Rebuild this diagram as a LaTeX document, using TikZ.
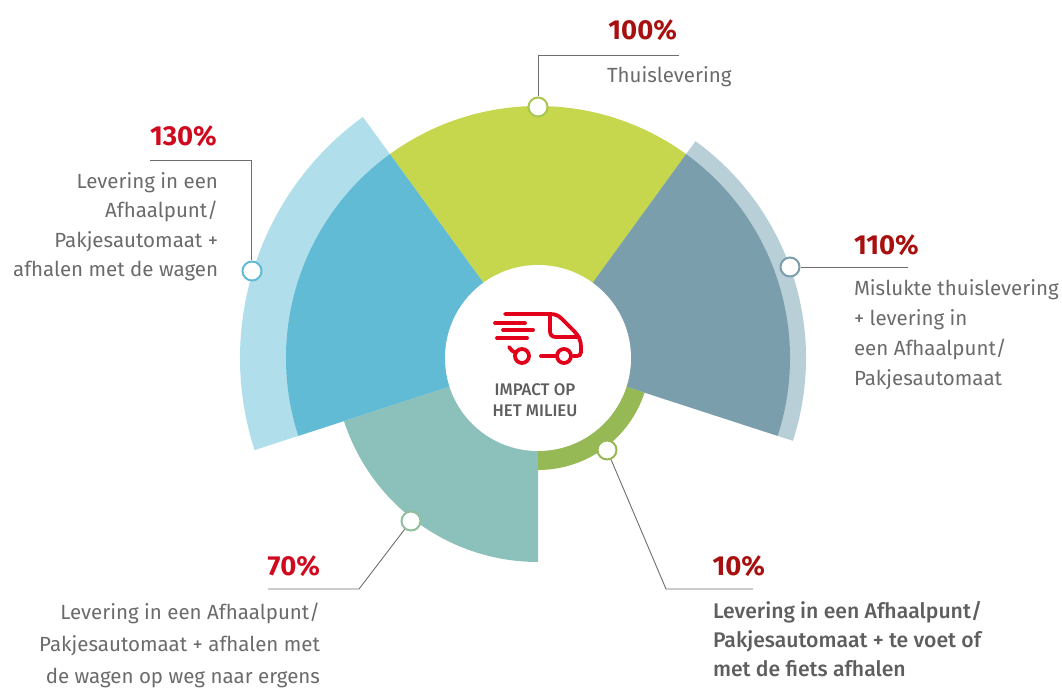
\documentclass[tikz,border=0pt]{standalone}
\usepackage{fontspec}
\setmainfont{Fira Sans}[BoldFont={Fira Sans Medium}]
\newfontfamily\pctfont{Fira Sans}[BoldFont={Fira Sans Bold}]
\definecolor{pctdark}{HTML}{A8100F}
\definecolor{pctred}{HTML}{D0091F}
\definecolor{txtgrey}{HTML}{6B6B6B}
\definecolor{boldgrey}{HTML}{5E5E5E}
\definecolor{leader}{HTML}{6E6E6E}
\definecolor{vanred}{HTML}{E2001A}
\definecolor{slime}{HTML}{C6D74E}
\definecolor{slate}{HTML}{7A9EAB}
\definecolor{slatelt}{HTML}{B9CFD7}
\definecolor{sky}{HTML}{62BBD5}
\definecolor{skylt}{HTML}{B0DEEB}
\definecolor{teal}{HTML}{8CC1BB}
\definecolor{moss}{HTML}{96B956}
\tikzset{
  pct/.style={font=\pctfont\fontsize{27.5}{30}\selectfont\bfseries,inner sep=0pt,outer sep=0pt},
  desc/.style={font=\fontsize{20.5}{29.5}\selectfont,text=txtgrey,inner sep=0pt,outer sep=0pt},
  dot/.style={circle,draw=#1,fill=white,line width=2pt,minimum size=19pt,inner sep=0pt},
  leadline/.style={draw=leader,line width=0.9pt},
  van/.style={draw=vanred,line width=3.8pt,line cap=round,line join=round}
}
\begin{document}
\begin{tikzpicture}[x=1pt,y=1pt]
\useasboundingbox (0,0) rectangle (1062,689);
\coordinate (c) at (538,331);
% sectors
\fill[skylt] (c) -- ++(126:298) arc[start angle=126,end angle=198,radius=298] -- cycle;
\fill[slatelt] (c) -- ++(-18:268) arc[start angle=-18,end angle=54,radius=268] -- cycle;
\fill[slime] (c) -- ++(54:252) arc[start angle=54,end angle=126,radius=252] -- cycle;
\fill[sky] (c) -- ++(126:252) arc[start angle=126,end angle=198,radius=252] -- cycle;
\fill[slate] (c) -- ++(-18:252) arc[start angle=-18,end angle=54,radius=252] -- cycle;
\fill[teal] (c) -- ++(198:204) arc[start angle=198,end angle=270,radius=204] -- cycle;
\fill[moss] (c) -- ++(270:112) arc[start angle=270,end angle=342,radius=112] -- cycle;
\node[circle,fill=white,minimum size=186pt,inner sep=0pt] (hub) at (c) {};
% van icon
\draw[van] (505,375) -- (550,375) .. controls (556,375) and (559,373) .. (562,370) -- (574,358) .. controls (579,353) and (581,348) .. (581,342) -- (581,337) .. controls (581,334) and (579,333) .. (577,333) -- (573,333);
\draw[van] (550,373) -- (550,358) .. controls (550,354) and (552,352) .. (556,352) -- (579,352);
\draw[van] (495,366) -- (525,366);
\draw[van] (503,359) -- (533,359);
\draw[van] (497,351) -- (527,351);
\draw[van] (509,342) .. controls (511,339) and (513,337) .. (516,336);
\draw[van] (541,333) -- (555,333);
\draw[van] (522,333) circle[radius=7];
\draw[van] (564,333) circle[radius=7];
\node[font=\fontsize{16.8}{21}\selectfont\bfseries,text=boldgrey,align=center,inner sep=0pt] (hubtext) at (535,289) {IMPACT OP\\HET MILIEU};
% markers
\node[dot=moss!60!slime] (m100) at (538,582) {};
\node[dot=sky] (m130) at (252,418) {};
\node[dot=slate] (m110) at (790,422) {};
\node[dot=moss] (m10) at (607,239) {};
\node[dot=teal!70!moss] (m70) at (411,168) {};
% leaders
\coordinate (l100a) at (538,634); \coordinate (l100b) at (679,634);
\coordinate (l130a) at (251,529); \coordinate (l130b) at (150,529);
\coordinate (l110b) at (908,422);
\coordinate (l10a) at (666,100); \coordinate (l10b) at (753,100);
\coordinate (l70a) at (359,100); \coordinate (l70b) at (268,100);
\draw[leadline] (m100) -- (l100a) -- (l100b);
\draw[leadline] (m130.north -| l130a) -- (l130a) -- (l130b);
\draw[leadline] (m110) -- (l110b);
\draw[leadline] (m10) -- (l10a) -- (l10b);
\draw[leadline] (m70) -- (l70a) -- (l70b);
% labels
\node[pct,text=pctdark,anchor=base east] (p100) at (677,649) {100\%};
\node[desc,anchor=base west] (d100) at (607,606) {Thuislevering};
\node[pct,text=pctred,anchor=base west] (p130) at (150,543) {130\%};
\node[desc,anchor=north east,align=right] (d130) at (218,516.5) {Levering in een\\Afhaalpunt/\\Pakjesautomaat +\\afhalen met de wagen};
\node[pct,text=pctdark,anchor=base west] (p110) at (854,434) {110\%};
\node[desc,font=\fontsize{20.5}{30}\selectfont,anchor=north west,align=left] (d110) at (854,409) {Mislukte thuislevering\\+ levering in\\een Afhaalpunt/\\Pakjesautomaat};
\node[pct,text=pctdark,anchor=base east] (p10) at (765,114) {10\%};
\node[desc,font=\fontsize{21.2}{29}\selectfont\bfseries,text=boldgrey,anchor=north west,align=left] (d10) at (713,88) {Levering in een Afhaalpunt/\\Pakjesautomaat + te voet of\\met de fiets afhalen};
\node[pct,text=pctred,anchor=base east] (p70) at (320,114) {70\%};
\node[desc,font=\fontsize{20.5}{32}\selectfont,anchor=north east,align=right] (d70) at (320,86) {Levering in een Afhaalpunt/\\Pakjesautomaat + afhalen met\\de wagen op weg naar ergens};
\end{tikzpicture}
\end{document}
